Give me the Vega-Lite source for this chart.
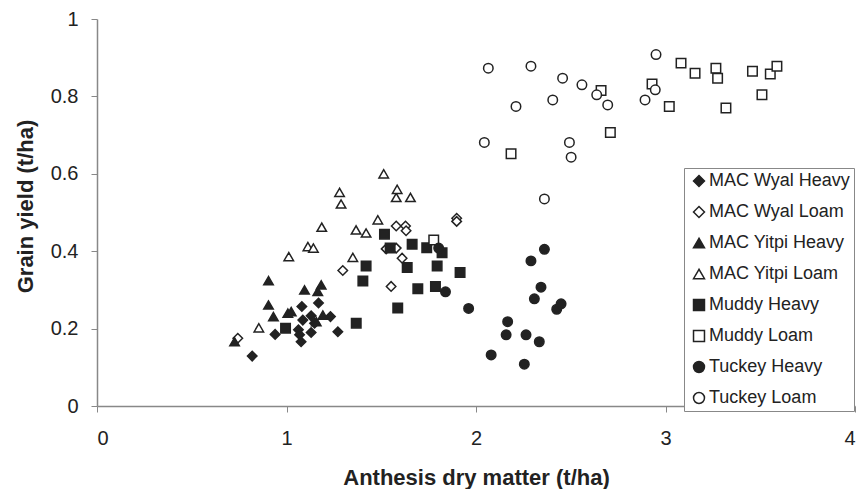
{
  "$schema": "https://vega.github.io/schema/vega-lite/v6.json",
  "width": 758,
  "height": 387,
  "autosize": {"type": "none"},
  "padding": {"left": 97, "top": 19, "right": 4, "bottom": 83},
  "background": "white",
  "config": {
    "view": {"stroke": null},
    "font": "Liberation Sans",
    "axis": {
      "grid": false,
      "domainColor": "#888888",
      "domainWidth": 1.5,
      "tickColor": "#888888",
      "tickSize": 6,
      "labelFont": "Liberation Sans",
      "labelFontSize": 20,
      "labelColor": "#222222",
      "titleFont": "Liberation Sans",
      "titleFontSize": 22,
      "titleFontWeight": "bold",
      "titleColor": "#222222"
    },
    "legend": {
      "orient": "none",
      "legendX": 587,
      "legendY": 149,
      "padding": 4,
      "rowPadding": 13,
      "labelFont": "Liberation Sans",
      "labelFontSize": 18,
      "labelColor": "#222222",
      "labelOffset": 1,
      "strokeColor": "#888888",
      "fillColor": "white",
      "symbolSize": 120,
      "symbolStrokeWidth": 1.5,
      "symbolOffset": 2
    }
  },
  "data": {
    "values": [
      {"series": "MAC Wyal Heavy", "adm": 0.819, "yield": 0.129},
      {"series": "MAC Wyal Heavy", "adm": 0.940, "yield": 0.185},
      {"series": "MAC Wyal Heavy", "adm": 1.063, "yield": 0.197},
      {"series": "MAC Wyal Heavy", "adm": 1.069, "yield": 0.184},
      {"series": "MAC Wyal Heavy", "adm": 1.077, "yield": 0.166},
      {"series": "MAC Wyal Heavy", "adm": 1.081, "yield": 0.257},
      {"series": "MAC Wyal Heavy", "adm": 1.086, "yield": 0.222},
      {"series": "MAC Wyal Heavy", "adm": 1.130, "yield": 0.233},
      {"series": "MAC Wyal Heavy", "adm": 1.130, "yield": 0.190},
      {"series": "MAC Wyal Heavy", "adm": 1.148, "yield": 0.214},
      {"series": "MAC Wyal Heavy", "adm": 1.169, "yield": 0.266},
      {"series": "MAC Wyal Heavy", "adm": 1.232, "yield": 0.231},
      {"series": "MAC Wyal Heavy", "adm": 1.271, "yield": 0.192},
      {"series": "MAC Wyal Loam", "adm": 0.743, "yield": 0.175},
      {"series": "MAC Wyal Loam", "adm": 1.297, "yield": 0.350},
      {"series": "MAC Wyal Loam", "adm": 1.526, "yield": 0.406},
      {"series": "MAC Wyal Loam", "adm": 1.552, "yield": 0.309},
      {"series": "MAC Wyal Loam", "adm": 1.579, "yield": 0.465},
      {"series": "MAC Wyal Loam", "adm": 1.579, "yield": 0.408},
      {"series": "MAC Wyal Loam", "adm": 1.610, "yield": 0.382},
      {"series": "MAC Wyal Loam", "adm": 1.628, "yield": 0.465},
      {"series": "MAC Wyal Loam", "adm": 1.631, "yield": 0.453},
      {"series": "MAC Wyal Loam", "adm": 1.898, "yield": 0.485},
      {"series": "MAC Wyal Loam", "adm": 1.898, "yield": 0.477},
      {"series": "MAC Yitpi Heavy", "adm": 0.726, "yield": 0.166},
      {"series": "MAC Yitpi Heavy", "adm": 0.905, "yield": 0.324},
      {"series": "MAC Yitpi Heavy", "adm": 0.905, "yield": 0.261},
      {"series": "MAC Yitpi Heavy", "adm": 0.931, "yield": 0.231},
      {"series": "MAC Yitpi Heavy", "adm": 1.007, "yield": 0.240},
      {"series": "MAC Yitpi Heavy", "adm": 1.025, "yield": 0.244},
      {"series": "MAC Yitpi Heavy", "adm": 1.095, "yield": 0.300},
      {"series": "MAC Yitpi Heavy", "adm": 1.157, "yield": 0.218},
      {"series": "MAC Yitpi Heavy", "adm": 1.165, "yield": 0.296},
      {"series": "MAC Yitpi Heavy", "adm": 1.183, "yield": 0.313},
      {"series": "MAC Yitpi Heavy", "adm": 1.192, "yield": 0.235},
      {"series": "MAC Yitpi Loam", "adm": 0.854, "yield": 0.202},
      {"series": "MAC Yitpi Loam", "adm": 1.012, "yield": 0.386},
      {"series": "MAC Yitpi Loam", "adm": 1.113, "yield": 0.412},
      {"series": "MAC Yitpi Loam", "adm": 1.142, "yield": 0.408},
      {"series": "MAC Yitpi Loam", "adm": 1.186, "yield": 0.462},
      {"series": "MAC Yitpi Loam", "adm": 1.280, "yield": 0.552},
      {"series": "MAC Yitpi Loam", "adm": 1.288, "yield": 0.522},
      {"series": "MAC Yitpi Loam", "adm": 1.350, "yield": 0.384},
      {"series": "MAC Yitpi Loam", "adm": 1.367, "yield": 0.455},
      {"series": "MAC Yitpi Loam", "adm": 1.420, "yield": 0.447},
      {"series": "MAC Yitpi Loam", "adm": 1.482, "yield": 0.481},
      {"series": "MAC Yitpi Loam", "adm": 1.513, "yield": 0.600},
      {"series": "MAC Yitpi Loam", "adm": 1.579, "yield": 0.539},
      {"series": "MAC Yitpi Loam", "adm": 1.584, "yield": 0.560},
      {"series": "MAC Yitpi Loam", "adm": 1.654, "yield": 0.539},
      {"series": "Muddy Heavy", "adm": 0.995, "yield": 0.201},
      {"series": "Muddy Heavy", "adm": 1.368, "yield": 0.214},
      {"series": "Muddy Heavy", "adm": 1.403, "yield": 0.323},
      {"series": "Muddy Heavy", "adm": 1.420, "yield": 0.362},
      {"series": "Muddy Heavy", "adm": 1.517, "yield": 0.444},
      {"series": "Muddy Heavy", "adm": 1.547, "yield": 0.408},
      {"series": "Muddy Heavy", "adm": 1.587, "yield": 0.253},
      {"series": "Muddy Heavy", "adm": 1.637, "yield": 0.358},
      {"series": "Muddy Heavy", "adm": 1.663, "yield": 0.418},
      {"series": "Muddy Heavy", "adm": 1.693, "yield": 0.303},
      {"series": "Muddy Heavy", "adm": 1.740, "yield": 0.409},
      {"series": "Muddy Heavy", "adm": 1.786, "yield": 0.309},
      {"series": "Muddy Heavy", "adm": 1.795, "yield": 0.362},
      {"series": "Muddy Heavy", "adm": 1.821, "yield": 0.396},
      {"series": "Muddy Heavy", "adm": 1.916, "yield": 0.345},
      {"series": "Muddy Loam", "adm": 1.777, "yield": 0.429},
      {"series": "Muddy Loam", "adm": 2.185, "yield": 0.652},
      {"series": "Muddy Loam", "adm": 2.660, "yield": 0.815},
      {"series": "Muddy Loam", "adm": 2.709, "yield": 0.707},
      {"series": "Muddy Loam", "adm": 2.929, "yield": 0.832},
      {"series": "Muddy Loam", "adm": 3.020, "yield": 0.774},
      {"series": "Muddy Loam", "adm": 3.082, "yield": 0.886},
      {"series": "Muddy Loam", "adm": 3.156, "yield": 0.860},
      {"series": "Muddy Loam", "adm": 3.266, "yield": 0.873},
      {"series": "Muddy Loam", "adm": 3.275, "yield": 0.847},
      {"series": "Muddy Loam", "adm": 3.319, "yield": 0.770},
      {"series": "Muddy Loam", "adm": 3.459, "yield": 0.865},
      {"series": "Muddy Loam", "adm": 3.509, "yield": 0.804},
      {"series": "Muddy Loam", "adm": 3.553, "yield": 0.858},
      {"series": "Muddy Loam", "adm": 3.588, "yield": 0.878},
      {"series": "Tuckey Heavy", "adm": 1.803, "yield": 0.408},
      {"series": "Tuckey Heavy", "adm": 1.839, "yield": 0.295},
      {"series": "Tuckey Heavy", "adm": 1.961, "yield": 0.252},
      {"series": "Tuckey Heavy", "adm": 2.080, "yield": 0.132},
      {"series": "Tuckey Heavy", "adm": 2.159, "yield": 0.184},
      {"series": "Tuckey Heavy", "adm": 2.167, "yield": 0.218},
      {"series": "Tuckey Heavy", "adm": 2.255, "yield": 0.108},
      {"series": "Tuckey Heavy", "adm": 2.264, "yield": 0.184},
      {"series": "Tuckey Heavy", "adm": 2.290, "yield": 0.375},
      {"series": "Tuckey Heavy", "adm": 2.308, "yield": 0.277},
      {"series": "Tuckey Heavy", "adm": 2.334, "yield": 0.166},
      {"series": "Tuckey Heavy", "adm": 2.343, "yield": 0.307},
      {"series": "Tuckey Heavy", "adm": 2.361, "yield": 0.405},
      {"series": "Tuckey Heavy", "adm": 2.426, "yield": 0.250},
      {"series": "Tuckey Heavy", "adm": 2.449, "yield": 0.264},
      {"series": "Tuckey Loam", "adm": 2.044, "yield": 0.681},
      {"series": "Tuckey Loam", "adm": 2.065, "yield": 0.873},
      {"series": "Tuckey Loam", "adm": 2.211, "yield": 0.774},
      {"series": "Tuckey Loam", "adm": 2.290, "yield": 0.878},
      {"series": "Tuckey Loam", "adm": 2.361, "yield": 0.535},
      {"series": "Tuckey Loam", "adm": 2.405, "yield": 0.791},
      {"series": "Tuckey Loam", "adm": 2.457, "yield": 0.847},
      {"series": "Tuckey Loam", "adm": 2.493, "yield": 0.681},
      {"series": "Tuckey Loam", "adm": 2.502, "yield": 0.643},
      {"series": "Tuckey Loam", "adm": 2.559, "yield": 0.830},
      {"series": "Tuckey Loam", "adm": 2.637, "yield": 0.804},
      {"series": "Tuckey Loam", "adm": 2.695, "yield": 0.778},
      {"series": "Tuckey Loam", "adm": 2.892, "yield": 0.791},
      {"series": "Tuckey Loam", "adm": 2.946, "yield": 0.817},
      {"series": "Tuckey Loam", "adm": 2.950, "yield": 0.908}
    ]
  },
  "mark": {"type": "point", "filled": true, "size": 90, "strokeWidth": 1.5, "opacity": 1},
  "encoding": {
    "x": {
      "field": "adm",
      "type": "quantitative",
      "scale": {"domain": [0, 4], "nice": false, "zero": true},
      "axis": {
        "title": "Anthesis dry matter (t/ha)",
        "values": [0, 1, 2, 3, 4],
        "format": "d",
        "labelPadding": 16,
        "titleBaseline": "alphabetic",
        "titleY": 78,
        "titleAnchor": "middle"
      }
    },
    "y": {
      "field": "yield",
      "type": "quantitative",
      "scale": {"domain": [0, 1], "nice": false},
      "axis": {
        "title": "Grain yield (t/ha)",
        "values": [0, 0.2, 0.4, 0.6, 0.8, 1],
        "format": "~g",
        "labelPadding": 13,
        "titleBaseline": "alphabetic",
        "titleX": -65,
        "titleY": 187,
        "titleAnchor": "middle"
      }
    },
    "shape": {
      "field": "series",
      "type": "nominal",
      "scale": {
        "domain": ["MAC Wyal Heavy", "MAC Wyal Loam", "MAC Yitpi Heavy", "MAC Yitpi Loam", "Muddy Heavy", "Muddy Loam", "Tuckey Heavy", "Tuckey Loam"],
        "range": ["diamond", "diamond", "triangle-up", "triangle-up", "square", "square", "circle", "circle"]
      },
      "legend": {"title": null}
    },
    "fill": {
      "field": "series",
      "type": "nominal",
      "scale": {
        "domain": ["MAC Wyal Heavy", "MAC Wyal Loam", "MAC Yitpi Heavy", "MAC Yitpi Loam", "Muddy Heavy", "Muddy Loam", "Tuckey Heavy", "Tuckey Loam"],
        "range": ["#222222", "#ffffff", "#222222", "#ffffff", "#222222", "#ffffff", "#222222", "#ffffff"]
      },
      "legend": {"title": null}
    },
    "stroke": {
      "field": "series",
      "type": "nominal",
      "scale": {
        "domain": ["MAC Wyal Heavy", "MAC Wyal Loam", "MAC Yitpi Heavy", "MAC Yitpi Loam", "Muddy Heavy", "Muddy Loam", "Tuckey Heavy", "Tuckey Loam"],
        "range": ["#222222", "#222222", "#222222", "#222222", "#222222", "#222222", "#222222", "#222222"]
      },
      "legend": {"title": null}
    }
  }
}
